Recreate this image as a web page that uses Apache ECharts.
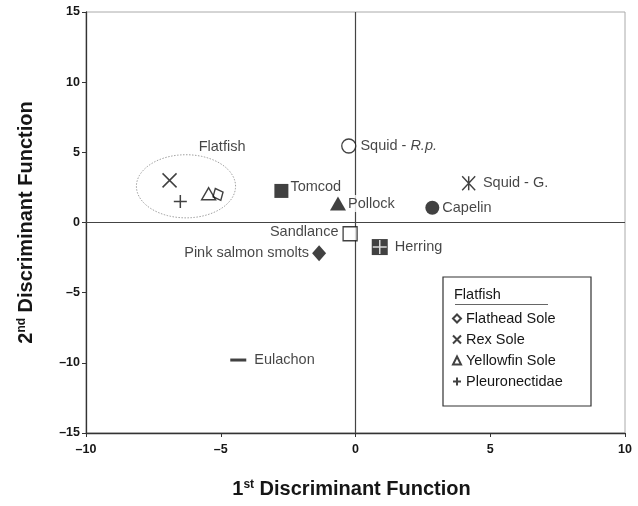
<!DOCTYPE html>
<html>
<head>
<meta charset="utf-8">
<script src="https://cdn.jsdelivr.net/npm/echarts@6/dist/echarts.min.js"></script>
<style>html,body{margin:0;padding:0;background:#fff;}#c{width:638px;height:506px;}</style>
</head>
<body>
<div id="c"></div>
<script>
// ---- data ----
const xTicks = [-10, -5, 0, 5, 10];
const xTickLabels = ['\u201310', '\u20135', '0', '5', '10'];
const yTicks = [-15, -10, -5, 0, 5, 10, 15];
const yTickLabels = ['\u201315', '\u201310', '\u20135', '0', '5', '10', '15'];

const squidRp = [[-0.25, 5.45]];
const squidG = [[4.2, 2.8]];
const capelin = [[2.85, 1.05]];
const pollock = [[-0.65, 1.35]];
const tomcod = [[-2.75, 2.25]];
const sandlance = [[-0.2, -0.8]];
const herring = [[0.9, -1.75]];
const pinkSalmon = [[-1.35, -2.2]];
const eulachon = [[-4.35, -9.8]];
const flatheadSole = [[-5.1, 2.0]];
const rexSole = [[-6.9, 3.0]];
const yellowfinSole = [[-5.45, 2.05]];
const pleuronectidae = [[-6.5, 1.5]];
// flatfish group ellipse: centre x, centre y, radius x, radius y (data units)
const flatfishEllipse = [[-6.29, 2.58, 1.84, 2.25]];
const flatfishLabelAt = [[-4.95, 5.4]];

const FONT = 'Liberation Sans, Arial, sans-serif';
const INK = '#111';
const TXT = '#161616';
const LFS = 14.5;
const X_PATH = 'path://M0,0L10,10M10,0L0,10';
const PLUS_PATH = 'path://M5,0L5,10M0,5L10,5';
const AST_PATH = 'path://M1,0L9,10M9,0L1,10M5,0L5,10';

const lab = (pos, extra) => Object.assign({
  show: true, position: pos, distance: 4, fontFamily: FONT, fontSize: LFS, color: TXT
}, extra || {});

const titleRich = {
  n: {fontFamily: FONT, fontWeight: 'bold', fontSize: 20, color: TXT},
  s: {fontFamily: FONT, fontWeight: 'bold', fontSize: 12, color: TXT, verticalAlign: 'top'}
};

const chart = echarts.init(document.getElementById('c'), null, {renderer: 'canvas'});
const option = {
  animation: false,
  backgroundColor: '#fff',
  grid: {left: 86, right: 13, top: 12, bottom: 73, show: true, borderColor: '#aaa', borderWidth: 1},
  xAxis: {
    type: 'value', min: -10, max: 10, interval: 5,
    axisLine: {onZero: false, lineStyle: {color: '#333', width: 1.3}},
    axisTick: {length: 4, lineStyle: {color: '#333'}},
    splitLine: {show: false},
    axisLabel: {formatter: v => xTickLabels[xTicks.indexOf(v)], fontFamily: FONT, fontWeight: 'bold', fontSize: 12.5, color: TXT, margin: 10},
    name: '{n|1}{s|st}{n| Discriminant Function}', nameLocation: 'middle', nameGap: 46,
    nameTextStyle: {rich: titleRich, padding: [0, 8, 0, 0]}
  },
  yAxis: {
    type: 'value', min: -15, max: 15, interval: 5,
    axisLine: {onZero: false, lineStyle: {color: '#333', width: 1.3}},
    axisTick: {length: 4, lineStyle: {color: '#333'}},
    splitLine: {show: false},
    axisLabel: {formatter: v => yTickLabels[yTicks.indexOf(v)], fontFamily: FONT, fontWeight: 'bold', fontSize: 12.5, color: TXT, margin: 6},
    name: '{n|2}{s|nd}{n| Discriminant Function}', nameLocation: 'middle', nameGap: 50,
    nameTextStyle: {rich: titleRich}
  },
  legend: {
    data: ['Flathead Sole', 'Rex Sole', 'Yellowfin Sole', 'Pleuronectidae'],
    orient: 'vertical', left: 452, top: 311, itemWidth: 8, itemHeight: 8, itemGap: 6, padding: 0,
    selectedMode: false, z: 20,
    textStyle: {fontFamily: FONT, fontSize: LFS, color: TXT}
  },
  graphic: [
    {type: 'rect', z: 10, shape: {x: 443, y: 277, width: 148, height: 129}, style: {fill: '#fff', stroke: '#333', lineWidth: 1.2}},
    {type: 'text', z: 11, left: 454, top: 287, style: {text: 'Flatfish', fontFamily: FONT, fontSize: LFS, fill: TXT}},
    {type: 'line', z: 11, shape: {x1: 455, y1: 304.5, x2: 548, y2: 304.5}, style: {stroke: '#666', lineWidth: 1}}
  ],
  series: [
    {type: 'line', data: [], z: 1, markLine: {silent: true, symbol: ['none', 'none'], label: {show: false},
      lineStyle: {color: '#444', type: 'solid', width: 1.2}, data: [{xAxis: 0}, {yAxis: 0}]}},
    {type: 'custom', z: 2, data: flatfishEllipse, encode: {x: 0, y: 1},
      renderItem: function (params, api) {
        const cx = api.value(0), cy = api.value(1), rx = api.value(2), ry = api.value(3);
        const pts = [];
        for (let i = 0; i < 90; i++) {
          const t = i / 90 * Math.PI * 2;
          pts.push(api.coord([cx + rx * Math.cos(t), cy + ry * Math.sin(t)]));
        }
        return {type: 'polygon', shape: {points: pts}, style: {fill: 'none', stroke: '#888', lineWidth: 0.8, lineDash: [1.5, 1.5]}};
      }},
    {type: 'scatter', z: 3, data: flatfishLabelAt, symbolSize: 1, itemStyle: {color: 'rgba(0,0,0,0)'},
      label: lab('inside', {formatter: 'Flatfish'})},
    {name: 'Squid - R.p.', type: 'scatter', z: 5, data: squidRp, symbol: 'circle', symbolSize: 14,
      itemStyle: {color: '#fff', borderColor: INK, borderWidth: 1.3},
      label: lab('right', {formatter: '{a|Squid - }{b|R.p.}', rich: {
        a: {fontFamily: FONT, fontSize: LFS, color: TXT},
        b: {fontFamily: FONT, fontSize: LFS, color: TXT, fontStyle: 'italic'}}})},
    {name: 'Squid - G.', type: 'scatter', z: 5, data: squidG, symbol: AST_PATH, symbolSize: [13, 14],
      itemStyle: {color: 'rgba(0,0,0,0)', borderColor: INK, borderWidth: 1.5},
      label: lab('right', {formatter: 'Squid - G.', distance: 7})},
    {name: 'Capelin', type: 'scatter', z: 5, data: capelin, symbol: 'circle', symbolSize: 14,
      itemStyle: {color: INK}, label: lab('right', {formatter: 'Capelin', distance: 3})},
    {name: 'Pollock', type: 'scatter', z: 5, data: pollock, symbol: 'triangle', symbolSize: [16, 14],
      itemStyle: {color: INK}, label: lab('right', {formatter: 'Pollock', distance: 1, backgroundColor: '#fff', padding: [1, 1]})},
    {name: 'Tomcod', type: 'scatter', z: 5, data: tomcod, symbol: 'rect', symbolSize: 14,
      itemStyle: {color: INK}, label: lab('right', {formatter: 'Tomcod', distance: 2, offset: [0, -4]})},
    {name: 'Sandlance', type: 'scatter', z: 5, data: sandlance, symbol: 'rect', symbolSize: 14,
      itemStyle: {color: '#fff', borderColor: INK, borderWidth: 1.3}, label: lab('left', {formatter: 'Sandlance', distance: 4, offset: [0, -2]})},
    {name: 'Herring', type: 'scatter', z: 5, data: herring, symbol: 'rect', symbolSize: 16,
      itemStyle: {color: INK}, label: lab('right', {formatter: 'Herring', distance: 7})},
    {name: 'Herring cross', type: 'scatter', z: 6, data: herring, symbol: PLUS_PATH, symbolSize: 14,
      itemStyle: {color: 'rgba(0,0,0,0)', borderColor: '#fff', borderWidth: 1.5}},
    {name: 'Pink salmon smolts', type: 'scatter', z: 5, data: pinkSalmon, symbol: 'diamond', symbolSize: [14, 16],
      itemStyle: {color: INK}, label: lab('left', {formatter: 'Pink salmon smolts', distance: 3})},
    {name: 'Eulachon', type: 'scatter', z: 5, data: eulachon, symbol: 'rect', symbolSize: [16, 3],
      itemStyle: {color: INK}, label: lab('right', {formatter: 'Eulachon', distance: 8})},
    {name: 'Flathead Sole', type: 'scatter', z: 5, data: flatheadSole, symbol: 'diamond', symbolSize: [11, 13], symbolRotate: 25,
      itemStyle: {color: 'rgba(255,255,255,0)', borderColor: INK, borderWidth: 1.4}},
    {name: 'Rex Sole', type: 'scatter', z: 5, data: rexSole, symbol: X_PATH, symbolSize: 14,
      itemStyle: {color: 'rgba(0,0,0,0)', borderColor: INK, borderWidth: 1.5}},
    {name: 'Yellowfin Sole', type: 'scatter', z: 5, data: yellowfinSole, symbol: 'triangle', symbolSize: [14, 12],
      itemStyle: {color: 'rgba(255,255,255,0)', borderColor: INK, borderWidth: 1.4}},
    {name: 'Pleuronectidae', type: 'scatter', z: 5, data: pleuronectidae, symbol: PLUS_PATH, symbolSize: 13,
      itemStyle: {color: 'rgba(0,0,0,0)', borderColor: INK, borderWidth: 1.5}}
  ]
};
chart.setOption(option);
</script>
</body>
</html>
